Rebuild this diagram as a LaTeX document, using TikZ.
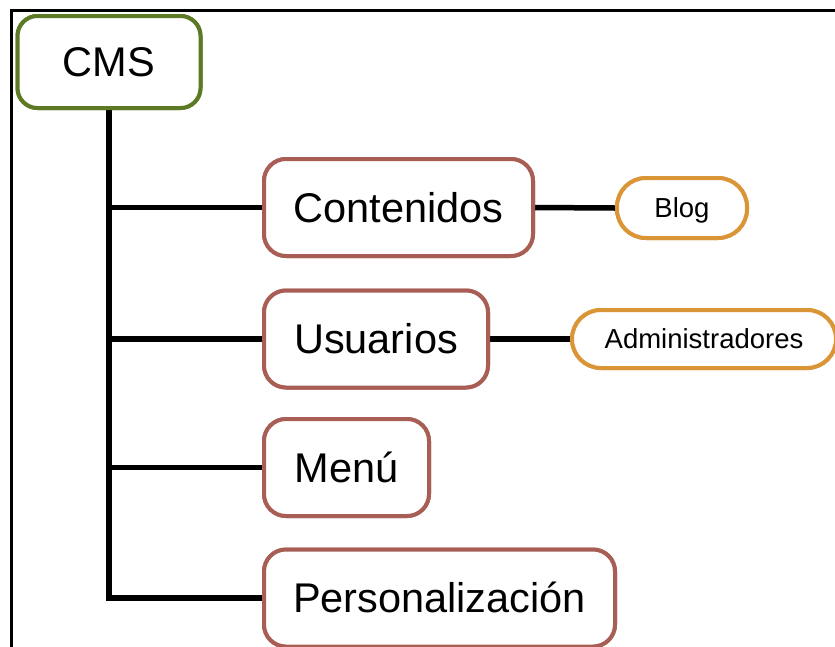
\documentclass[tikz,border=0pt]{standalone}
\usepackage{fontspec}
\setmainfont{Liberation Sans}
\definecolor{cmsgreen}{HTML}{5C7A24}
\definecolor{secred}{HTML}{A95E55}
\definecolor{suborange}{HTML}{DA9537}
\begin{document}
\begin{tikzpicture}[x=1pt,y=-1pt,
  boxbase/.style={draw, fill=white, line width=4pt, inner sep=0pt, text depth=0pt},
  rootbox/.style={boxbase, draw=cmsgreen, rounded corners=20pt, text height=29.5pt, font=\fontsize{41.5}{48}\selectfont},
  secbox/.style={boxbase, draw=secred, rounded corners=22pt, minimum height=97pt, text height=29.5pt, font=\fontsize{41.5}{48}\selectfont},
  subbox/.style={boxbase, draw=suborange, rounded corners=29pt, text height=19.7pt, font=\fontsize{27.5}{33}\selectfont},
  link/.style={line width=5.5pt, black},
  frameline/.style={line width=2.5pt, black}]
\useasboundingbox (0,0) rectangle (835,646);
\clip (0,0) rectangle (835,646);
% frame
\coordinate (ftr) at (840,10.5);
\coordinate (ftl) at (11.5,10.5);
\coordinate (fbl) at (11.5,650);
\draw[frameline] (ftr) -- (ftl) -- (fbl);
% nodes
\node[rootbox, minimum width=183pt, minimum height=92pt] (cms) at (109,62) {CMS};
\node[secbox, minimum width=269pt] (cont) at (398.5,207.5) {Contenidos};
\node[secbox, minimum width=224pt] (usu) at (376,339) {Usuarios};
\node[secbox, minimum width=165pt] (menu) at (346.5,467.5) {Menú};
\node[secbox, minimum width=351pt] (pers) at (439.5,598) {Personalización};
\node[subbox, minimum width=130pt, minimum height=60pt] (blog) at (682,208) {Blog};
\node[subbox, minimum width=264pt, minimum height=58pt] (admin) at (704,339) {Administradores};
% connectors
\draw[link] (cms.south) |- (pers.west);
\draw[link] (cms.south) |- (cont.west);
\draw[link] (cms.south) |- (usu.west);
\draw[link] (cms.south) |- (menu.west);
\draw[link] (cont.east) -- (blog.west);
\draw[link] (usu.east) -- (admin.west);
% redraw boxes on top of connector ends
\node[rootbox, minimum width=183pt, minimum height=92pt] at (cms) {CMS};
\node[secbox, minimum width=269pt] at (cont) {Contenidos};
\node[secbox, minimum width=224pt] at (usu) {Usuarios};
\node[secbox, minimum width=165pt] at (menu) {Menú};
\node[secbox, minimum width=351pt] at (pers) {Personalización};
\node[subbox, minimum width=130pt, minimum height=60pt] at (blog) {Blog};
\node[subbox, minimum width=264pt, minimum height=58pt] at (admin) {Administradores};
\end{tikzpicture}
\end{document}
